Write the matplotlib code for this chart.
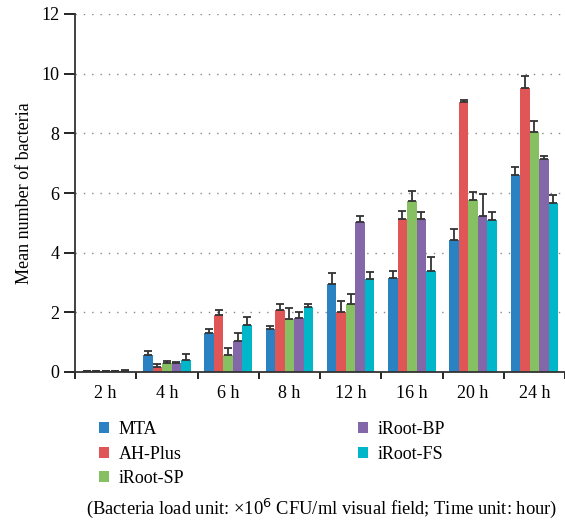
import numpy as np
import matplotlib.pyplot as plt

plt.rcParams["font.family"] = ["Liberation Serif", "DejaVu Serif"]

times = ["2 h", "4 h", "6 h", "8 h", "12 h", "16 h", "20 h", "24 h"]
groups = ["MTA", "AH-Plus", "iRoot-SP", "iRoot-BP", "iRoot-FS"]
colors = ["#2a82c2", "#e05555", "#86c062", "#8467a9", "#00b6c9"]

mta = [0.02, 0.57, 1.30, 1.44, 2.95, 3.15, 4.42, 6.60]
ah_plus = [0.02, 0.18, 1.91, 2.08, 2.01, 5.13, 9.05, 9.52]
iroot_sp = [0.03, 0.31, 0.57, 1.78, 2.28, 5.73, 5.77, 8.05]
iroot_bp = [0.03, 0.29, 1.04, 1.81, 5.03, 5.13, 5.23, 7.14]
iroot_fs = [0.05, 0.40, 1.58, 2.18, 3.12, 3.39, 5.10, 5.67]

mta_err = [0.01, 0.13, 0.13, 0.11, 0.38, 0.23, 0.38, 0.26]
ah_plus_err = [0.01, 0.08, 0.17, 0.20, 0.38, 0.26, 0.06, 0.39]
iroot_sp_err = [0.01, 0.06, 0.22, 0.35, 0.32, 0.35, 0.25, 0.38]
iroot_bp_err = [0.01, 0.05, 0.26, 0.21, 0.21, 0.23, 0.73, 0.09]
iroot_fs_err = [0.01, 0.19, 0.27, 0.11, 0.24, 0.45, 0.25, 0.25]

values = [mta, ah_plus, iroot_sp, iroot_bp, iroot_fs]
errors = [mta_err, ah_plus_err, iroot_sp_err, iroot_bp_err, iroot_fs_err]

fig = plt.figure(figsize=(5.65, 5.2), dpi=100)
ax = fig.add_axes([75 / 565, 1 - 372 / 520, 1 - 75 / 565, (372 - 14) / 520])

x = np.arange(len(times))
width = 0.155
for i, (name, vals, errs, col) in enumerate(zip(groups, values, errors, colors)):
    pos = x + (i - 2) * width
    ax.bar(pos, vals, width=width, color=col, label=name, zorder=2)
    ax.errorbar(pos, vals, yerr=[np.zeros(len(errs)), errs], fmt="none",
                ecolor="#333333", elinewidth=1.3, capsize=3, capthick=1.3, zorder=3)

ax.set_ylim(0, 12)
ax.set_xlim(-0.5, 7.4)
ax.set_yticks(range(0, 13, 2))
ax.yaxis.grid(True, linestyle=(0, (1, 5)), color="#888888", linewidth=1)
ax.set_axisbelow(True)

ax.set_xticks(np.arange(-0.5, 8, 1))
ax.set_xticklabels([])
ax.set_xticks(x, minor=True)
ax.set_xticklabels(times, minor=True)
ax.tick_params(axis="x", which="major", direction="out", length=5, width=1.2)
ax.tick_params(axis="x", which="minor", length=0, pad=9, labelsize=13)
ax.tick_params(axis="y", direction="out", length=8, width=1.2, labelsize=13, pad=3)

for side in ["top", "right"]:
    ax.spines[side].set_visible(False)
for side in ["left", "bottom"]:
    ax.spines[side].set_linewidth(1.3)
    ax.spines[side].set_color("#333333")

ax.set_ylabel("Mean number of bacteria", fontsize=13)
ax.yaxis.set_label_coords(-0.086, 0.5)

fig.legend(loc="upper left", bbox_to_anchor=(99 / 565, 1 - 421 / 520), ncol=2,
           frameon=False, fontsize=13, handlelength=0.55, handleheight=0.55,
           handletextpad=0.55, columnspacing=9.6, labelspacing=0.42,
           borderpad=0, borderaxespad=0)

fig.text(322 / 565, 1 - 508 / 520,
         "(Bacteria load unit: \u00d710$^{6}$ CFU/ml visual field; Time unit: hour)",
         ha="center", va="center", fontsize=13.3)

fig.savefig("out.png", dpi=100)
